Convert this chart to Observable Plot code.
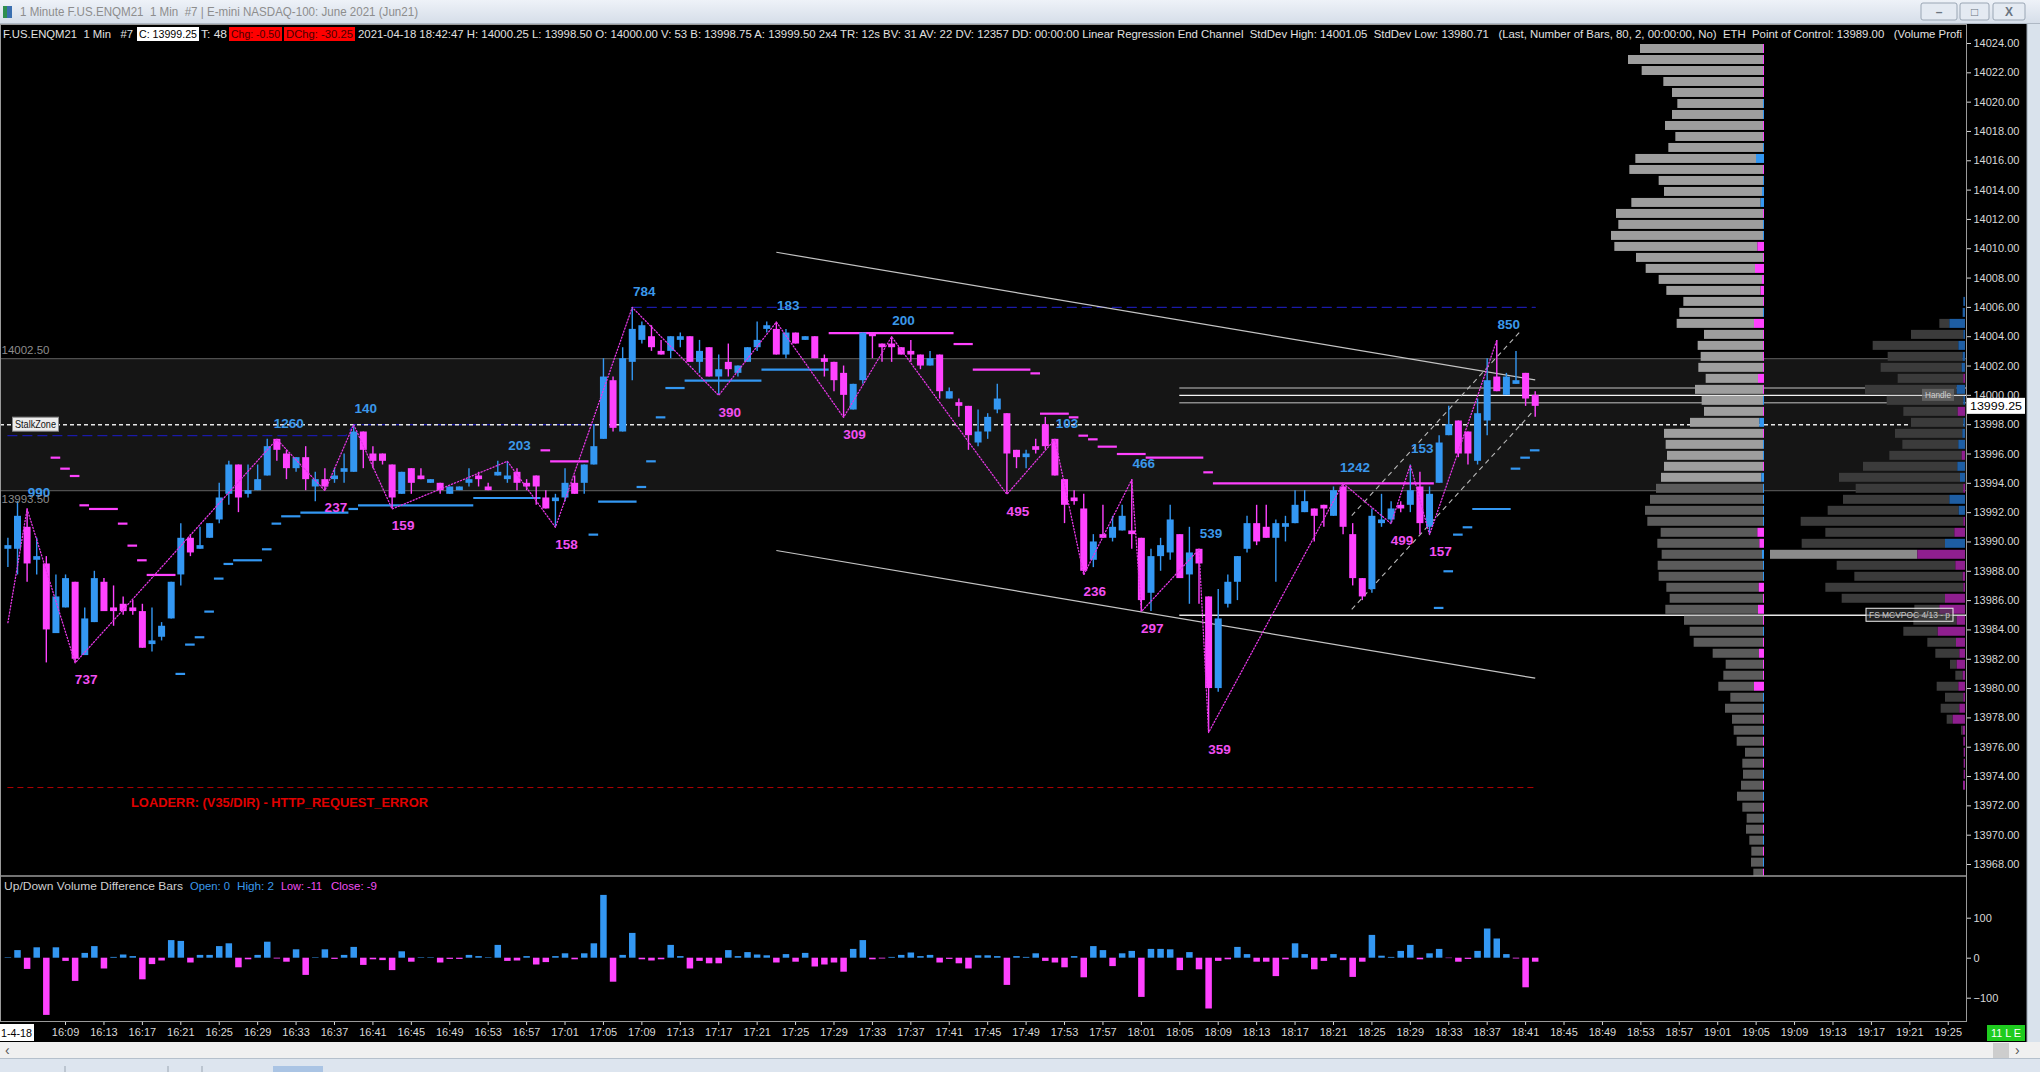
<!DOCTYPE html>
<html><head><meta charset="utf-8">
<script src="https://cdn.jsdelivr.net/npm/d3@7"></script>
<script src="https://cdn.jsdelivr.net/npm/@observablehq/plot@0.6"></script>
<style>
html,body{margin:0;padding:0;background:#000;}
body{width:2040px;height:1072px;position:relative;overflow:hidden;font-family:"Liberation Sans",Arial,sans-serif;}
.abs{position:absolute;left:0;}
#titlebar{top:0;width:2040px;height:24px;background:linear-gradient(#eef2f8,#d6dee9);border-bottom:1px solid #aeb8c4;box-sizing:border-box;}
#bottombar{top:1042px;width:2040px;height:30px;background:#f0f0f0;}
</style></head>
<body>
<div id="titlebar" class="abs"></div>
<div id="bottombar" class="abs"></div>
<div id="price" class="abs" style="top:24px"></div>
<div id="prof1" class="abs" style="top:24px"></div>
<div id="prof2" class="abs" style="top:24px"></div>
<div id="vol" class="abs" style="top:876px"></div>
<script>
// ---------------- DATA ----------------
const firstMinute = 16 * 60 + 3; // first bar 16:03
const opens = [
13989.5,13989.5,13991,13988.75,13988.5,13983.75,13985.5,13987.25,13982.25,13984.5,
13987.25,13985.5,13985.75,13985.5,13985.25,13983,13983.5,13984.75,13987.75,13990.25,
13989.5,13990.25,13991.5,13993.25,13995.25,13993.25,13993.5,13994.5,13997,13996,
13995,13995.75,13993.75,13994.25,13994.25,13994.75,13994.75,13997.5,13996,13996,
13995.25,13993.25,13995,13994.5,13994,13994,13993.25,13993.5,13994,13994.5,
13993.75,13994.5,13994.25,13994.75,13994,13994.5,13993,13992.75,13993,13994,
13994,13995.25,13997,14001,13997.5,14002.25,14003.75,14004,14003,14003,
14003.75,14004,14002.25,14003.25,14001.25,14002.25,14001.5,14002.25,14003.25,14004.5,
14004.5,14002.75,14004.25,14003.75,14004,14002.5,14002.25,14001.5,13999,14001,
14004.25,14003.5,14003.5,14003.25,14003,14002.75,14002,14002.75,13999.75,13999.5,
13999.25,13996.75,13997.5,13999,13998.75,13996.25,13995.75,13996.5,13998,13997,
13994.25,13993,13992.25,13988.75,13990.5,13990.25,13990.75,13990.75,13990.25,13986.5,
13989,13989.25,13990.5,13987.75,13989.5,13986.25,13980,13985.75,13987.25,13989.5,
13991.25,13991,13990.25,13991,13991.25,13992,13992.25,13992.5,13991.75,13993.75,
13990.5,13987.5,13986.75,13991.25,13991.5,13992.5,13992.5,13993.75,13991,13994,
13997.25,13998.25,13997.5,13995.5,13998.25,14001.25,14000,14000.75,14001.5,14000];
const highs = [
13990.25,13992.75,13992.25,13990.25,13989,13987.75,13987.75,13987.25,13985.5,13988,
13987.5,13987,13986.25,13986,13985.75,13985.5,13984.5,13987.25,13991.25,13990.5,
13991,13991.25,13994,13995.5,13995.25,13995.25,13995.25,13997,13997,13996.25,
13995.75,13996.5,13994.75,13995,13995,13996,13998,13997.5,13996.5,13996,
13995.25,13994.75,13995,13995,13994.25,13994,13993.75,13993.75,13995,13994.75,
13994,13995.5,13995.5,13995,13994.25,13994.5,13993.5,13993.25,13995,13994.5,
13995.25,13998,14002.5,14001.25,14003.25,14006,14005,14004.75,14003.75,14004,
14004.25,14004,14003.75,14003.25,14002.75,14003.5,14002,14003.25,14005,14005,
14005,14004.5,14004.25,14004,14004,14002.75,14002.25,14002,14000.75,14004.25,
14004.25,14003.5,14004,14003.25,14003.75,14002.75,14003,14002.75,14000.5,13999.75,
13999.25,13999,13998.75,14000.75,13998.75,13996.25,13996.25,13997,13998.5,13997,
13994.25,13993.5,13993.25,13990.5,13992.5,13991.75,13992.5,13994.25,13990.25,13989.5,
13990.25,13992.5,13990.5,13991,13989.5,13986.25,13986.75,13987.75,13989,13991.75,
13992.5,13992.5,13991.5,13991.75,13993.5,13993.5,13992.25,13992.5,13993.75,13994,
13991.25,13987.5,13992.25,13993.25,13992.75,13992.75,13995.25,13994.75,13993.75,13997.25,
13999.25,13998.25,13997.5,13999.75,14002.5,14003.75,14001.5,14003,14001.5,14000.25];
const lows = [
13988.25,13987.75,13987.25,13987.75,13981.75,13983.75,13985.5,13981.75,13982.25,13984.5,
13985.25,13984.25,13985,13985,13982.75,13982.5,13983.25,13984.75,13987,13989,
13989.5,13990.25,13991.25,13992.5,13992,13993,13993.5,13994.5,13995.5,13994.25,
13994.75,13993.5,13992.75,13993.5,13994,13994,13994.75,13995,13995,13995.25,
13992.25,13993.25,13993.25,13994.25,13994,13993.25,13993.25,13993.5,13993.75,13993.75,
13993.5,13994.5,13994,13993.5,13993.5,13992.5,13992.25,13991,13992.75,13993.25,
13993.25,13995.25,13997,13997.5,13997.5,14001,14003.5,14003,14002.75,14002.5,
14003.25,14002.25,14001.5,14001.25,14000,14001.25,14001.25,14002.25,14003,14004.25,
14002.75,14002.5,14003.5,14003.75,14002.5,14001.25,14000.25,13998.5,13999,14000.75,
14002.5,14002.25,14002.25,14002.75,14002.25,14001.75,14002,13999.75,13999.75,13998.5,
13996.25,13996.5,13997,13998.75,13993.25,13995,13995,13996,13996.25,13994.5,
13991.25,13992.5,13987.75,13988.25,13990.25,13990,13990.75,13989.5,13985.25,13985.25,
13988,13988.75,13987.5,13985.75,13985.75,13977,13979.75,13985.5,13986,13989.25,
13989.75,13990.25,13987.25,13990,13991.25,13992,13990,13991,13991.75,13990.5,
13987,13986,13986.5,13991,13991.25,13992,13992,13990.5,13990.5,13994,
13997.25,13995.75,13995.25,13995.25,13997.25,14000.25,14000,14000.75,13999.25,13998.5];
const closes = [
13989.75,13991.75,13988.5,13989,13984,13986.25,13987.5,13982,13984.75,13987.5,
13985.25,13985.25,13985.25,13985.25,13982.75,13983.25,13984.25,13987.25,13990.25,13989.25,
13989.75,13991.25,13993,13995.25,13993,13993.5,13994.25,13996.5,13996.25,13995,
13995.75,13994.25,13994.25,13993.75,13994.5,13995,13997.5,13996.25,13995.5,13995.5,
13993,13994.75,13994,13994.25,13994.25,13993.5,13993.75,13993.75,13994.25,13994.25,
13993.5,13994.75,13994.5,13994,13993.75,13993.75,13992.25,13993,13994,13993.25,
13995.25,13996.5,14001.25,13997.75,14002.5,14004.5,14004.75,14003.25,14002.75,14004,
14004,14002.25,14003,14001.25,14001.75,14001.75,14002,14003.25,14003.75,14004.75,
14002.75,14004.25,14003.5,14004,14002.5,14002.25,14001,14000,14000.75,14004.25,
14004,14003.25,14003.25,14002.75,14002.75,14002,14002.5,14000.25,14000.25,13999.25,
13997.25,13997.5,13998.5,13999.75,13996,13995.75,13996,13996.25,13996.5,13994.5,
13992.5,13992.75,13988,13990,13990.25,13991,13991.75,13990.5,13986,13989,
13989.75,13991.5,13987.5,13989.25,13988.5,13980,13984.75,13987.25,13989,13991.25,
13990,13990.25,13991.25,13991.25,13992.5,13992.75,13991.75,13992.25,13993.5,13991,
13987.5,13986.25,13991.75,13991.5,13992.25,13992.25,13993.5,13991.25,13993.25,13996.75,
13998,13996,13996,13998.75,14001,14000.25,14001.25,14001,13999.75,13999.25];

// Up/Down volume difference per bar
const volDiff = [
1,19,-28,26,-143,26,-8,-58,12,29,
-27,2,8,4,-54,-16,-7,44,42,-12,
7,7,29,36,-24,-4,7,40,-2,-10,
21,-43,1,21,-3,7,27,-18,-4,-6,
-31,16,-10,1,1,-12,-3,-3,7,4,
1,32,-8,-7,4,-17,-11,4,11,-4,
11,36,157,-60,7,62,-4,-7,-4,32,
4,-27,-8,-14,-14,19,4,14,8,6,
-12,9,-10,12,-22,-17,-12,-35,22,44,
-4,-2,2,7,13,4,7,-12,-3,-14,
-27,6,6,4,-68,4,2,11,-8,-12,
-24,4,-49,29,19,-21,11,17,-98,22,
22,21,-31,14,-29,-127,-8,-4,27,9,
-10,-10,-46,-4,36,9,-29,-8,9,-6,
-48,-10,57,5,2,17,32,-4,11,22,
-1,-10,-3,17,73,48,9,-2,-74,-10];

// zigzag swing points (bar index, price, volume label)
const zigBar   = [0, 2, 7, 28, 33, 36, 40, 52, 57, 65, 74, 80, 87, 92, 104, 109, 112, 117, 118, 124, 125, 139, 144, 146, 148, 155];
const zigPrice = [13984.5,13992.25,13981.75,13997,13993.5,13998,13992.25,13995.5,13991,14006,14000,14005,13998.5,14004,13993.25,13997,13987.75,13994.25,13985.25,13989.5,13977,13994,13991.25,13995.25,13990.5,14003.75];
const zigLabel = ["","990","737","1260","237","140","159","203","158","784","390","183","309","200","495","103","236","466","297","539","359","1242","499","153","157","850"];
const zigSide  = ["","H","L","H","L","H","L","H","L","H","L","H","L","H","L","H","L","H","L","H","L","H","L","H","L","H"];

// trailing stop dashes: [fromBar, toBar, price, side]  (S = above price, B = below price)
const stopSegments = [
[5,5,13995.75,"S"],[6,6,13995,"S"],[7,7,13994.5,"S"],[8,8,13992.5,"S"],[9,11,13992.25,"S"],[12,12,13991.25,"S"],[13,13,13989.75,"S"],[14,14,13988.75,"S"],[15,17,13987.75,"S"],
[18,18,13981,"B"],[19,19,13983,"B"],[20,20,13983.5,"B"],[21,21,13985.25,"B"],[22,22,13987.5,"B"],[23,23,13988.5,"B"],[24,26,13988.75,"B"],[27,27,13989.5,"B"],[28,28,13991.25,"B"],[29,30,13991.75,"B"],[31,35,13992,"B"],[36,36,13992.25,"B"],[37,48,13992.5,"B"],[49,55,13993,"B"],
[56,56,13996.25,"S"],[57,60,13995.5,"S"],
[61,61,13990.5,"B"],[62,65,13992.75,"B"],[66,66,13993.75,"B"],[67,67,13995.5,"B"],[68,68,13998.5,"B"],[69,70,14000.5,"B"],[71,78,14001,"B"],[79,85,14001.75,"B"],
[86,98,14004.25,"S"],[99,100,14003.5,"S"],[101,106,14001.75,"S"],[107,107,14001.5,"S"],[108,110,13998.75,"S"],[111,111,13998.5,"S"],[112,112,13997.25,"S"],[113,113,13997,"S"],[114,115,13996.5,"S"],[116,118,13996,"S"],[119,124,13995.75,"S"],[125,125,13994.75,"S"],[126,148,13994,"S"],
[149,149,13985.5,"B"],[150,150,13988,"B"],[151,151,13990.5,"B"],[152,152,13991,"B"],[153,156,13992.25,"B"],[157,157,13995,"B"],[158,158,13995.75,"B"],[159,159,13996.25,"B"]];

// swing-high tracking line (dark blue dashed)
const swingLineA = [[0,13997.25],[35.2,13997.25],[36,13998],[62,13998]];
const swingLineB = [[65,14006],[159,14006]];

// zones and levels
const zoneLow = 13993.5, zoneHigh = 14002.5;
const stalkZone = 13998;
const errorLevel = 13973.25;
const handleLevels = [14000.5, 14000, 13999.5];
const handleColors = ["#8a8a8a", "#f2f2f2", "#8a8a8a"];
const mcvpocLevel = 13985;
const levelsFromBar = 122;

// linear regression channel (80 bars) and rising dashed channel
const regFrom = 80, regTo = 159;
const regUpper = [14009.76, 14001.05];
const regLower = [13989.42, 13980.71];
const riseChannel = [[139.9,13985.4,158.9,13999.0],[139.9,13991.8,157.5,14004.4]];

// volume profiles (rows of 0.75 pt from the top of the chart)
const profileTop = 14023.625, rowStep = 0.75;
const leftProfileVol = [372,408,367,302,276,260,276,297,266,287,386,404,316,300,398,444,437,459,449,384,355,316,293,242,254,262,180,199,190,197,175,207,187,180,222,300,295,291,300,309,324,342,357,350,310,320,307,319,316,293,283,296,240,223,211,154,115,122,137,101,117,96,91,82,57,65,63,69,81,65,52,54,44,38,39,32];
const leftProfileDelta = [-3,-3,-3,-3,-3,3,3,-3,-3,3, 24,-3,3,6,10,-3,3,3,-20,-3, -27,-6,-10,-3,3,-30,-3,-3,-3,-3, -18,-3,3,-3,14,-3,3,3,-3,8, 3,3,3,3,-20,-14,6,3,3,-16, -3,-18,-3,3,-3,-15,-3,-3,-30,3, 3,-3,3,-3,3,-3,3,-3,3,-3, 3,-3,3,-3,3,-3];
const rightProfileFirstRow = 23;
const rightProfileVol = [5,7,77,162,277,232,253,202,300,235,185,162,210,188,227,306,378,328,366,412,493,419,490,585,385,332,419,370,152,155,185,113,89,45,29,85,60,73,55,12,5,4,4,4,6];
const rightProfileDelta = [5,7,47,5,20,7,10,-5,25,5,-22,5,8,20,-10,23,15,-5,47,19,-5,-32,60,-143,-29,-7,-5,-60,-77,-25,-82,-27,-17,-25,-7,-20,-5,-17,-37,-7,-5,-4,-4,-4,-6];
const pointOfControl = 13989;

// axis ticks
const priceTicks = d3.range(13968, 14024.1, 2);
const volTicks = [100, 0, -100];
const timeTicks = d3.range(6, 203, 4);

// ---------------- BUILD ----------------
const BLUE = "#3397f2", MAG = "#ff42ff";
const FONT = "Liberation Sans, Arial, sans-serif";
const bars = opens.map((o, k) => ({k, o, h: highs[k], l: lows[k], c: closes[k]}));
const up = bars.filter(d => d.c >= d.o), dn = bars.filter(d => d.c < d.o);
const zig = zigBar.map((k, i) => ({k, p: zigPrice[i], label: zigLabel[i], side: zigSide[i]}));
const stops = stopSegments.map(([a, b, p, s]) => ({a, b, p, s}));
const lastBar = bars.length - 1;
const xCfg = {domain: [-0.77, 203.9], range: [0, 1966]};
const yCfg = {domain: [14024, 13968], range: [19, 840]};
const fmtTime = k => { const m = firstMinute + k; return Math.floor(m / 60) + ":" + String(m % 60).padStart(2, "0"); };

const pricePlot = Plot.plot({
  width: 2040, height: 852, marginLeft: 0, marginRight: 74, marginTop: 0, marginBottom: 0,
  x: {...xCfg, axis: null}, y: {...yCfg},
  style: {background: "#000", color: "#d8d8d8", fontFamily: FONT, fontSize: "11px"},
  marks: [
    Plot.rect([{lo: zoneLow, hi: zoneHigh}], {y1: "lo", y2: "hi", fill: "#151515"}),
    Plot.ruleY([zoneLow, zoneHigh], {stroke: "#4f4f4f", strokeWidth: 1.2}),
    Plot.ruleY([errorLevel], {x1: 0, x2: lastBar, stroke: "#b00000", strokeDasharray: "6,4", strokeWidth: 1}),
    Plot.line(swingLineA, {x: d => d[0], y: d => d[1], stroke: "#1a1aa8", strokeWidth: 1.3, strokeDasharray: "9,6"}),
    Plot.line(swingLineB, {x: d => d[0], y: d => d[1], stroke: "#1a1aa8", strokeWidth: 1.3, strokeDasharray: "9,6"}),
    Plot.ruleY([stalkZone], {stroke: "#e6e6e6", strokeWidth: 1.6, strokeDasharray: "4,3"}),
    Plot.ruleY(handleLevels.map((p, i) => ({p, c: handleColors[i]})), {y: "p", x1: levelsFromBar, x2: xCfg.domain[1], stroke: d => d.c, strokeWidth: 1.4}),
    Plot.ruleY([mcvpocLevel], {x1: levelsFromBar, x2: xCfg.domain[1], stroke: "#e8e8e8", strokeWidth: 1.4}),
    Plot.link([{x1: regFrom, y1: regUpper[0], x2: regTo, y2: regUpper[1]}, {x1: regFrom, y1: regLower[0], x2: regTo, y2: regLower[1]}],
      {x1: "x1", y1: "y1", x2: "x2", y2: "y2", stroke: "#c4c4c4", strokeWidth: 1.2}),
    Plot.link(riseChannel, {x1: d => d[0], y1: d => d[1], x2: d => d[2], y2: d => d[3], stroke: "#b8b8b8", strokeWidth: 1.1, strokeDasharray: "5,4"}),
    Plot.ruleY(stops.filter(d => d.s === "S"), {y: "p", x1: d => d.a - 0.5, x2: d => d.b + 0.5, stroke: MAG, strokeWidth: 2.2}),
    Plot.ruleY(stops.filter(d => d.s === "B"), {y: "p", x1: d => d.a - 0.5, x2: d => d.b + 0.5, stroke: BLUE, strokeWidth: 2.2}),
    Plot.ruleX(up, {x: "k", y1: "l", y2: "h", stroke: BLUE, strokeWidth: 1.4}),
    Plot.ruleX(dn, {x: "k", y1: "l", y2: "h", stroke: MAG, strokeWidth: 1.4}),
    Plot.ruleX(up, {x: "k", y1: "o", y2: "c", stroke: BLUE, strokeWidth: 7}),
    Plot.ruleX(dn, {x: "k", y1: "o", y2: "c", stroke: MAG, strokeWidth: 7}),
    Plot.line(zig, {x: "k", y: "p", stroke: "#e436e4", strokeWidth: 1.3, strokeDasharray: "1.2,2"}),
    Plot.text(zig.filter(d => d.side === "H"), {x: "k", y: "p", text: "label", dx: 12, dy: -16, fill: "#3b98ea", fontSize: 13.5, fontWeight: "bold"}),
    Plot.text(zig.filter(d => d.side === "L"), {x: "k", y: "p", text: "label", dx: 11, dy: 17, fill: "#f24ff2", fontSize: 13.5, fontWeight: "bold"}),
    Plot.text([zoneHigh], {y: d => d, frameAnchor: "left", text: d => d.toFixed(2), dx: 1, dy: -8, fill: "#8c8c8c", fontSize: 11.5, textAnchor: "start"}),
    Plot.text([zoneLow], {y: d => d, frameAnchor: "left", text: d => d.toFixed(2), dx: 1, dy: 9, fill: "#8c8c8c", fontSize: 11.5, textAnchor: "start"}),
    Plot.axisY(priceTicks, {anchor: "right", tickFormat: d => d.toFixed(2), tickSize: 4, tickPadding: 3, color: "#d8d8d8", label: null, fontSize: 11})
  ]
});
document.getElementById("price").appendChild(pricePlot);

// left volume profile
const rowsL = leftProfileVol.map((v, i) => ({p: profileTop - rowStep * i, v, d: leftProfileDelta[i]}));
const rowY = {y1: d => d.p + rowStep / 2, y2: d => d.p - rowStep / 2, insetTop: 1, insetBottom: 1};
const prof1 = Plot.plot({
  width: 2040, height: 852, marginLeft: 0, marginRight: 0, marginTop: 0, marginBottom: 0,
  x: {domain: [0, 600], range: [1764, 1564], axis: null}, y: {...yCfg, axis: null},
  style: {background: "transparent"},
  marks: [
    Plot.rect(rowsL.filter(d => d.p > 13994), {x1: d => Math.abs(d.d), x2: "v", ...rowY, fill: "#9e9e9e"}),
    Plot.rect(rowsL.filter(d => d.p <= 13994), {x1: d => Math.abs(d.d), x2: "v", ...rowY, fill: "#5b5b5b"}),
    Plot.rect(rowsL.filter(d => d.d > 0), {x1: 0, x2: "d", ...rowY, fill: BLUE}),
    Plot.rect(rowsL.filter(d => d.d < 0), {x1: 0, x2: d => -d.d, ...rowY, fill: MAG})
  ]
});
document.getElementById("prof1").appendChild(prof1);

// right (session) volume profile
const rowsR = rightProfileVol.map((v, j) => ({p: profileTop - rowStep * (j + rightProfileFirstRow), v, d: rightProfileDelta[j]}));
const isPoc = d => Math.abs(d.p - pointOfControl) < rowStep / 2;
const prof2 = Plot.plot({
  width: 2040, height: 852, marginLeft: 0, marginRight: 0, marginTop: 0, marginBottom: 0,
  x: {domain: [0, 600], range: [1965, 1765], axis: null}, y: {...yCfg, axis: null},
  style: {background: "transparent"},
  marks: [
    Plot.rect(rowsR.filter(d => !isPoc(d)), {x1: d => Math.abs(d.d), x2: "v", ...rowY, fill: "#3b3b3b"}),
    Plot.rect(rowsR.filter(isPoc), {x1: d => Math.abs(d.d), x2: "v", ...rowY, fill: "#8a8a8a"}),
    Plot.rect(rowsR.filter(d => d.d > 0), {x1: 0, x2: "d", ...rowY, fill: "#1e5ea4"}),
    Plot.rect(rowsR.filter(d => d.d < 0), {x1: 0, x2: d => -d.d, ...rowY, fill: "#8f1f8f"})
  ]
});
document.getElementById("prof2").appendChild(prof2);

// volume difference panel + time axis
const vbars = volDiff.map((v, k) => ({k, v}));
const volPlot = Plot.plot({
  width: 2040, height: 166, marginLeft: 0, marginRight: 74, marginTop: 0, marginBottom: 20,
  x: {...xCfg}, y: {domain: [100, -100], range: [41.7, 121.7]},
  style: {background: "transparent", color: "#d8d8d8", fontFamily: FONT, fontSize: "11px"},
  marks: [
    Plot.ruleX(vbars.filter(d => d.v >= 0), {x: "k", y1: 0, y2: d => Math.max(d.v, 1.2), stroke: BLUE, strokeWidth: 6.5}),
    Plot.ruleX(vbars.filter(d => d.v < 0), {x: "k", y1: 0, y2: "v", stroke: MAG, strokeWidth: 6.5}),
    Plot.axisY(volTicks, {anchor: "right", tickSize: 4, tickPadding: 3, color: "#d8d8d8", label: null, fontSize: 11}),
    Plot.axisX(timeTicks, {anchor: "bottom", tickFormat: fmtTime, tickSize: 3, tickPadding: 3, color: "#d8d8d8", label: null, fontSize: 11})
  ]
});
document.getElementById("vol").appendChild(volPlot);

// ---------------- ANNOTATIONS (positions from the plots' scales) ----------------
const yS = pricePlot.scale("y");
const py = p => 24 + yS.apply(p);
const svg = d3.select("body").append("svg").attr("class", "abs").style("top", "0px")
  .attr("width", 2040).attr("height", 1072).style("font-family", FONT).style("pointer-events", "none");
function label(x, y, s, o = {}) {
  const t = svg.append("text").attr("x", x).attr("y", y).text(s)
    .attr("fill", o.fill || "#e0e0e0").attr("font-size", o.size || 11.5)
    .attr("dominant-baseline", "central").style("white-space", "pre");
  if (o.len) t.attr("textLength", o.len).attr("lengthAdjust", "spacingAndGlyphs");
  if (o.weight) t.attr("font-weight", o.weight);
  if (o.anchor) t.attr("text-anchor", o.anchor);
  return t;
}
function box(x, y, w, h, fill, stroke) {
  svg.append("rect").attr("x", x).attr("y", y).attr("width", w).attr("height", h)
    .attr("fill", fill).attr("stroke", stroke || "none");
}
// panel frames
svg.append("rect").attr("x", 0.5).attr("y", 24.5).attr("width", 1966).attr("height", 851.5).attr("fill", "none").attr("stroke", "#9a9a9a");
svg.append("rect").attr("x", 0.5).attr("y", 876).attr("width", 1966).attr("height", 145.5).attr("fill", "none").attr("stroke", "#9a9a9a");

// title bar
box(3, 6, 4, 12, "#2f8f4f"); box(7, 6, 5, 12, "#3a6fb0");
label(20, 12, "1 Minute F.US.ENQM21  1 Min  #7 | E-mini NASDAQ-100: June 2021 (Jun21)", {fill: "#8d8d8d", size: 12.5, len: 398});
[[1921, 36, "–"], [1960, 29, "□"], [1993, 32, "X"]].forEach(([x, w, s]) => {
  svg.append("rect").attr("x", x).attr("y", 3).attr("width", w).attr("height", 17).attr("rx", 2)
    .attr("fill", "#e4eaf2").attr("stroke", "#9aa6b4");
  label(x + w / 2, 11.5, s, {fill: "#6a7480", size: 12, anchor: "middle", weight: "bold"});
});

// header line
const hy = 34;
label(3, hy, "F.US.ENQM21  1 Min   #7", {len: 130});
box(137, 27, 62, 14, "#ffffff"); label(139, hy, "C: 13999.25", {fill: "#000", len: 58});
label(201, hy, "T: 48", {len: 26});
box(229, 27, 53, 14, "#ff0000"); label(231, hy, "Chg: -0.50", {fill: "#4a0000", len: 49});
box(284, 27, 71, 14, "#ff0000"); label(286, hy, "DChg: -30.25", {fill: "#4a0000", len: 67});
label(358, hy, "2021-04-18 18:42:47 H: 14000.25 L: 13998.50 O: 14000.00 V: 53 B: 13998.75 A: 13999.50 2x4 TR: 12s BV: 31 AV: 22 DV: 12357 DD: 00:00:00 Linear Regression End Channel  StdDev High: 14001.05  StdDev Low: 13980.71   (Last, Number of Bars, 80, 2, 00:00:00, No)  ETH  Point of Control: 13989.00   (Volume Profi", {len: 1604});

// chart labels
const sz = py(stalkZone);
box(12.5, sz - 7, 46, 14, "#ececec", "#888");
label(15, sz, "StalkZone", {fill: "#111", size: 10.5, len: 41});
const ey = py(errorLevel) + 16;
label(131, ey, "LOADERR: (V35/DIR) - HTTP_REQUEST_ERROR", {fill: "#e00000", size: 12.5, weight: "bold", len: 297});
const hly = py(handleLevels[1]);
box(1922, hly - 6, 32, 12, "rgba(110,110,110,0.75)");
label(1925, hly, "Handle", {fill: "#d0d0d0", size: 9.5, len: 26});
const mly = py(mcvpocLevel);
box(1866, mly - 6.5, 87, 13, "rgba(60,60,60,0.55)", "#f0f0f0");
label(1869, mly, "FS MCVPOC 4/13 - p", {fill: "#c8c8c8", size: 9.5, len: 81});
const cpy = py(closes[lastBar]);
box(1967, cpy - 8, 58, 16, "#ffffff");
label(1970, cpy, closes[lastBar].toFixed(2), {fill: "#000", size: 11.5, len: 52});

// volume panel title
label(4, 886, "Up/Down Volume Difference Bars", {fill: "#cfcfcf", size: 11.5, len: 179});
label(190, 886, "Open: 0", {fill: "#3b98ea", size: 11.5, len: 40});
label(237, 886, "High: 2", {fill: "#3b98ea", size: 11.5, len: 37});
label(281, 886, "Low: -11", {fill: "#f24ff2", size: 11.5, len: 41});
label(331, 886, "Close: -9", {fill: "#f24ff2", size: 11.5, len: 46});

// time axis extras
box(0, 1024, 34, 17, "#ffffff");
label(1, 1033, "1-4-18", {fill: "#000", size: 11, len: 31});
box(1987, 1025, 38, 16, "#1fcc1f");
label(1991, 1033, "11 L E", {fill: "#ffffff", size: 11, len: 30});

// window chrome: right strip, bottom scrollbar
box(2027, 24, 13, 1018, "#d9e2ec"); svg.append("line").attr("x1", 2027).attr("x2", 2027).attr("y1", 24).attr("y2", 1042).attr("stroke", "#9aa5b1");
box(0, 1042, 2040, 16, "#f0f0f0");
box(1993, 1043, 16, 15, "#cdcdcd");
label(5, 1050, "‹", {fill: "#555", size: 14});
label(2015, 1050, "›", {fill: "#555", size: 14});
box(0, 1058, 2040, 14, "#dde5ef"); svg.append("line").attr("x1", 0).attr("x2", 2040).attr("y1", 1058.5).attr("y2", 1058.5).attr("stroke", "#b5c0cc");
box(273, 1066, 50, 6, "#aac4e4");
[65, 168, 202].forEach(x => svg.append("line").attr("x1", x).attr("x2", x).attr("y1", 1066).attr("y2", 1072).attr("stroke", "#9aa5b1"));
</script>
</body></html>
